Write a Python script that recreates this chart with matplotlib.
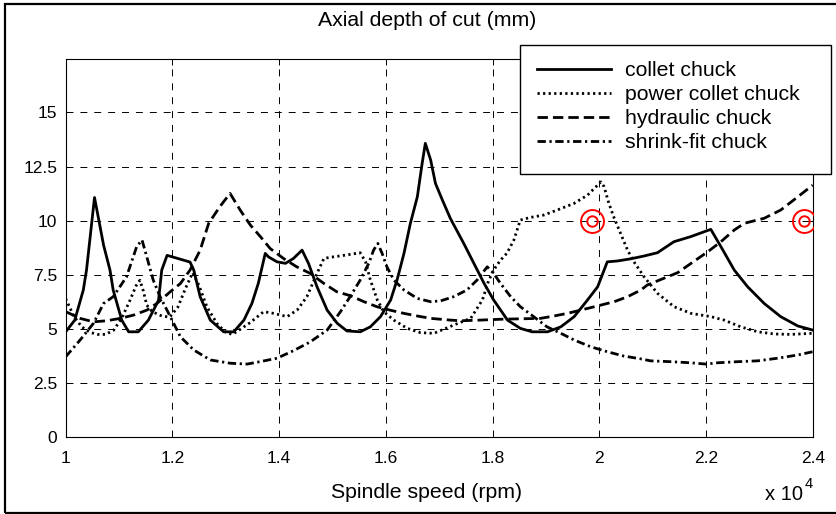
import matplotlib
matplotlib.use("Agg")
import matplotlib.pyplot as plt
from matplotlib.patches import Rectangle

plt.rcParams['font.family'] = ['Liberation Sans', 'DejaVu Sans']
plt.rcParams['font.size'] = 12
plt.rcParams['lines.scale_dashes'] = False

# spindle speed in units of 1e4 rpm, depth of cut in mm
collet_x = [1.000, 1.017, 1.033, 1.039, 1.054, 1.071, 1.083, 1.089, 1.105, 1.118,
            1.136, 1.155, 1.174, 1.180, 1.190, 1.233, 1.240, 1.252, 1.271, 1.296,
            1.315, 1.334, 1.349, 1.361, 1.374, 1.380, 1.396, 1.412, 1.427, 1.443,
            1.455, 1.471, 1.490, 1.509, 1.527, 1.552, 1.571, 1.590, 1.609, 1.621,
            1.634, 1.646, 1.659, 1.668, 1.674, 1.684, 1.693, 1.706, 1.721, 1.746,
            1.765, 1.784, 1.802, 1.828, 1.852, 1.874, 1.903, 1.928, 1.953, 1.978,
            1.997, 2.015, 2.034, 2.059, 2.084, 2.109, 2.140, 2.171, 2.209, 2.228,
            2.253, 2.278, 2.309, 2.340, 2.372, 2.400]
collet_y = [4.87, 5.41, 6.80, 7.72, 11.07, 8.87, 7.72, 6.80, 5.41, 4.87,
            4.87, 5.41, 6.33, 7.72, 8.40, 8.09, 7.72, 6.49, 5.41, 4.87,
            4.87, 5.41, 6.18, 7.11, 8.49, 8.33, 8.10, 8.03, 8.26, 8.64,
            8.03, 6.95, 5.87, 5.26, 4.91, 4.87, 5.10, 5.57, 6.34, 7.26,
            8.49, 9.88, 11.10, 12.64, 13.57, 12.80, 11.72, 10.95, 10.10, 8.95,
            8.03, 7.11, 6.34, 5.41, 5.03, 4.87, 4.87, 5.10, 5.57, 6.34,
            6.95, 8.10, 8.14, 8.24, 8.37, 8.52, 9.03, 9.26, 9.60, 8.80,
            7.72, 6.95, 6.18, 5.57, 5.14, 4.95]

power_x = [1.000, 1.015, 1.030, 1.045, 1.060, 1.075, 1.090, 1.105, 1.120, 1.132,
           1.139, 1.145, 1.152, 1.162, 1.180, 1.195, 1.210, 1.225, 1.238, 1.250,
           1.265, 1.285, 1.300, 1.312, 1.325, 1.346, 1.371, 1.390, 1.415, 1.434,
           1.452, 1.471, 1.484, 1.502, 1.527, 1.552, 1.562, 1.571, 1.584, 1.596,
           1.615, 1.640, 1.665, 1.690, 1.727, 1.759, 1.781, 1.793, 1.806, 1.815,
           1.827, 1.840, 1.852, 1.871, 1.896, 1.921, 1.953, 1.978, 2.003, 2.009,
           2.018, 2.027, 2.040, 2.053, 2.065, 2.084, 2.109, 2.140, 2.172, 2.209,
           2.234, 2.265, 2.297, 2.328, 2.359, 2.400]
power_y = [6.40, 5.60, 5.10, 4.85, 4.75, 4.75, 4.95, 5.50, 6.30, 7.00,
           7.25, 6.80, 6.10, 5.80, 5.60, 5.55, 6.00, 6.90, 7.60, 7.00,
           6.00, 5.20, 4.85, 4.75, 4.95, 5.30, 5.80, 5.72, 5.57, 5.88,
           6.49, 7.57, 8.26, 8.33, 8.42, 8.52, 8.10, 7.26, 6.34, 5.80,
           5.41, 5.03, 4.83, 4.80, 5.18, 5.49, 6.34, 7.26, 7.87, 8.18,
           8.50, 9.11, 10.03, 10.15, 10.26, 10.49, 10.80, 11.18, 11.79, 11.57,
           10.80, 10.18, 9.41, 8.64, 8.10, 7.41, 6.65, 6.03, 5.72, 5.57,
           5.41, 5.10, 4.87, 4.77, 4.75, 4.80]

hydraulic_x = [1.000, 1.027, 1.052, 1.077, 1.102, 1.127, 1.152, 1.171, 1.196, 1.215,
               1.233, 1.252, 1.268, 1.289, 1.308, 1.327, 1.346, 1.365, 1.383, 1.408,
               1.433, 1.458, 1.484, 1.508, 1.533, 1.559, 1.583, 1.608, 1.634, 1.659,
               1.684, 1.721, 1.740, 1.777, 1.815, 1.852, 1.890, 1.915, 1.940, 1.965,
               1.996, 2.028, 2.053, 2.078, 2.090, 2.121, 2.147, 2.172, 2.203, 2.228,
               2.253, 2.272, 2.309, 2.340, 2.372, 2.400]
hydraulic_y = [5.80, 5.49, 5.33, 5.38, 5.49, 5.64, 5.87, 6.18, 6.72, 7.10,
               7.72, 8.64, 9.88, 10.65, 11.26, 10.49, 9.80, 9.26, 8.72, 8.26,
               7.87, 7.57, 7.10, 6.72, 6.54, 6.26, 6.03, 5.87, 5.72, 5.60,
               5.49, 5.41, 5.38, 5.41, 5.45, 5.47, 5.49, 5.60, 5.72, 5.87,
               6.06, 6.26, 6.49, 6.80, 7.03, 7.34, 7.60, 8.03, 8.56, 9.03,
               9.57, 9.88, 10.11, 10.49, 11.10, 11.64]

shrink_x = [1.000, 1.027, 1.052, 1.071, 1.089, 1.114, 1.133, 1.143, 1.152, 1.164,
            1.177, 1.196, 1.215, 1.240, 1.271, 1.308, 1.340, 1.364, 1.396, 1.427,
            1.458, 1.490, 1.515, 1.533, 1.552, 1.568, 1.577, 1.585, 1.593, 1.602,
            1.615, 1.634, 1.659, 1.684, 1.703, 1.727, 1.752, 1.771, 1.790, 1.802,
            1.815, 1.834, 1.852, 1.877, 1.902, 1.928, 1.953, 1.984, 2.015, 2.046,
            2.078, 2.096, 2.134, 2.171, 2.200, 2.222, 2.259, 2.297, 2.334, 2.372,
            2.400]
shrink_y = [3.72, 4.49, 5.26, 6.18, 6.49, 7.41, 8.80, 9.11, 8.33, 7.26,
            6.49, 5.57, 4.64, 4.03, 3.57, 3.42, 3.38, 3.49, 3.65, 4.00,
            4.40, 4.95, 5.80, 6.49, 7.26, 8.03, 8.64, 8.95, 8.49, 7.87,
            7.26, 6.80, 6.41, 6.26, 6.30, 6.49, 6.80, 7.26, 7.87, 7.57,
            7.10, 6.49, 6.03, 5.57, 5.10, 4.80, 4.49, 4.18, 3.95, 3.75,
            3.62, 3.53, 3.49, 3.44, 3.38, 3.44, 3.49, 3.53, 3.65, 3.80,
            3.95]

target_x = [1.987, 2.384]
target_y = [10.0, 10.0]

labels = ['collet chuck', 'power collet chuck', 'hydraulic chuck', 'shrink-fit chuck']
x_ticks = [1, 1.2, 1.4, 1.6, 1.8, 2, 2.2, 2.4]
y_ticks = [0, 2.5, 5, 7.5, 10, 12.5, 15]

W, H = 837, 514
fig = plt.figure(figsize=(W / 100, H / 100), dpi=100)
ax = fig.add_axes([65.7 / W, 1 - 437.3 / H, (812.7 - 65.7) / W, (437.3 - 59.3) / H])

lw = 2.0
styles = [
    dict(linestyle='-'),
    dict(linestyle=(0, (1.6, 2.4))),
    dict(linestyle=(0, (7.5, 3.6))),
    dict(linestyle=(0, (6, 2.6, 1.6, 2.6))),
]
series = [(collet_x, collet_y), (power_x, power_y),
          (hydraulic_x, hydraulic_y), (shrink_x, shrink_y)]
handles = []
for (xs, ys), st, lab in zip(series, styles, labels):
    h, = ax.plot(xs, ys, color='black', lw=lw, label=lab, zorder=3, **st)
    handles.append(h)

ax.plot(target_x, target_y, 'o', ms=16.5, mfc='none', mec='red', mew=1.4, zorder=4)
ax.plot(target_x, target_y, 'o', ms=7.5, mfc='none', mec='red', mew=1.4, zorder=4)

ax.set_xlim(1, 2.4)
ax.set_ylim(0, 17.45)
ax.set_xticks(x_ticks)
ax.set_xticklabels(['%g' % v for v in x_ticks])
ax.set_yticks(y_ticks)
ax.set_yticklabels(['%g' % v for v in y_ticks])
ax.grid(True, color='black', linestyle=(0, (5, 5)), linewidth=0.7)
ax.tick_params(axis='both', direction='in', length=4, width=0.7, top=True, right=True,
               labelsize=12.5)
ax.tick_params(axis='x', pad=10)
ax.tick_params(axis='y', pad=6)
for s in ax.spines.values():
    s.set_linewidth(0.8)

fig.text(427 / W, 1 - 20 / H, 'Axial depth of cut (mm)', ha='center', va='center', fontsize=15.3)
fig.text(427 / W, 1 - 493 / H, 'Spindle speed (rpm)', ha='center', va='center', fontsize=15.3)
fig.text(765 / W, 1 - 494 / H, 'x 10', ha='left', va='center', fontsize=14.5)
fig.text(805 / W, 1 - 484 / H, '4', ha='left', va='center', fontsize=10.5)

# legend box
fig.patches.append(Rectangle((520 / W, 1 - 174.3 / H), (830.7 - 520) / W, (174.3 - 44.7) / H,
                             transform=fig.transFigure, facecolor='white',
                             edgecolor='black', lw=1.0, zorder=3))
fig.legend(handles=handles, loc='upper left', bbox_to_anchor=(536.7 / W, 1 - 61.5 / H),
           bbox_transform=fig.transFigure, frameon=False, borderpad=0, borderaxespad=0,
           handlelength=3.5, handletextpad=0.67, labelspacing=0.23, fontsize=15.3)

# outer border
fig.patches.append(Rectangle((5 / W, 1 - 513 / H), 1.2, (513 - 4) / H,
                             transform=fig.transFigure, facecolor='none',
                             edgecolor='black', lw=1.6, zorder=2, clip_on=False))

fig.savefig('out.png', dpi=100)
